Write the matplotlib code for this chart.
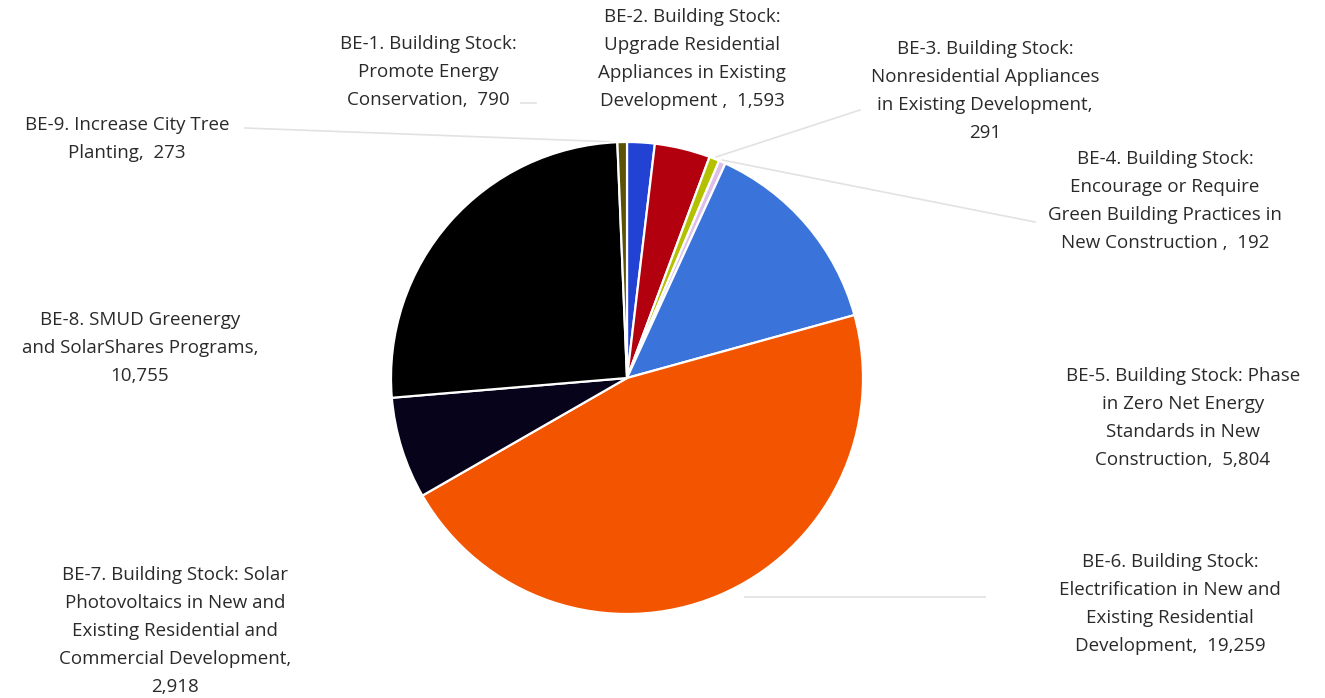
import numpy as np
import matplotlib.pyplot as plt

# emissions reduction by measure (MTCO2e)
measures = ["BE-1. Building Stock:\nPromote Energy\nConservation,  790",
            "BE-2. Building Stock:\nUpgrade Residential\nAppliances in Existing\nDevelopment ,  1,593",
            "BE-3. Building Stock:\nNonresidential Appliances\nin Existing Development,\n291",
            "BE-4. Building Stock:\nEncourage or Require\nGreen Building Practices in\nNew Construction ,  192",
            "BE-5. Building Stock: Phase\nin Zero Net Energy\nStandards in New\nConstruction,  5,804",
            "BE-6. Building Stock:\nElectrification in New and\nExisting Residential\nDevelopment,  19,259",
            "BE-7. Building Stock: Solar\nPhotovoltaics in New and\nExisting Residential and\nCommercial Development,\n2,918",
            "BE-8. SMUD Greenergy\nand SolarShares Programs,\n10,755",
            "BE-9. Increase City Tree\nPlanting,  273"]
values = [790, 1593, 291, 192, 5804, 19259, 2918, 10755, 273]
colors = ["#2142d2", "#b3000f", "#b4c100", "#dcc0ea", "#3a73d9",
          "#f25400", "#06031a", "#000000", "#5b5208"]

H = 698
fig = plt.figure(figsize=(13.25, 6.98), dpi=100)
ax = fig.add_axes([0, 0, 1, 1])
ax.pie(values, colors=colors, startangle=90, counterclock=False,
       center=(627, H - 378), radius=236,
       wedgeprops=dict(edgecolor="white", linewidth=1.6))
ax.set_xlim(0, 1325)
ax.set_ylim(0, H)
ax.set_aspect("equal")
ax.axis("off")

# label block centres (pixels from top-left)
label_pos = [(428, 72), (692, 59), (985, 91), (1165, 201), (1183, 418),
             (1170, 604), (175, 631), (140, 348), (127, 139)]
for txt, (x, y) in zip(measures, label_pos):
    ax.text(x, H - y, txt, ha="center", va="center", multialignment="center",
            fontsize=13.5, family="Open Sans", color="#2a2a2a", linespacing=1.72)

# faint leader lines
leaders = [((245, 128), (617, 142)), ((860, 110), (716, 157)),
           ((1035, 222), (722, 160)), ((985, 597), (745, 597)),
           ((521, 103), (536, 103))]
for (x0, y0), (x1, y1) in leaders:
    ax.plot([x0, x1], [H - y0, H - y1], color="#e2e2e2", lw=1.2, zorder=0)

fig.savefig("out.png", dpi=100)
